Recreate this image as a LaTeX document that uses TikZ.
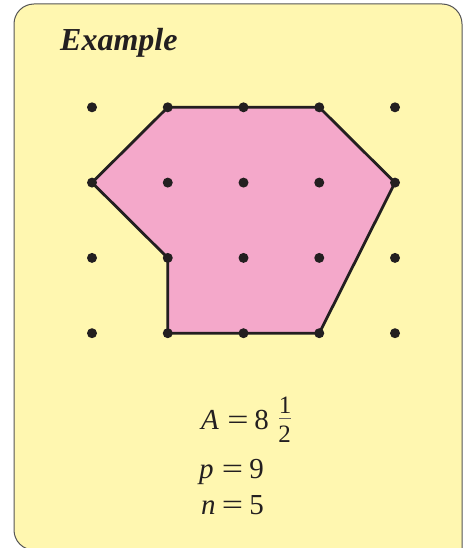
\documentclass[tikz,border=0pt]{standalone}
\usepackage{fontspec}
\usepackage{graphicx}
\setmainfont{Liberation Serif}
\definecolor{boxfill}{RGB}{255,247,176}
\definecolor{boxline}{RGB}{85,85,85}
\definecolor{polyfill}{RGB}{244,168,202}
\definecolor{ink}{RGB}{35,31,32}
\tikzset{
  dotmark/.style={circle, fill=ink, inner sep=0pt, minimum size=10pt},
  eq/.style={font=\fontsize{29}{29}\selectfont, inner sep=0pt, anchor=base, text=ink},
  frac/.style={font=\fontsize{25}{25}\selectfont, inner sep=0pt, anchor=base, text=ink},
  titletext/.style={font=\fontsize{32}{32}\selectfont\bfseries\itshape, inner sep=0pt, anchor=base west, text=ink},
  polyline/.style={draw=ink, line width=2.8pt, fill=polyfill, line join=miter}
}
\begin{document}
\begin{tikzpicture}[x=1pt, y=-1pt]
\useasboundingbox (0,0) rectangle (463,548);
\clip (0,0) rectangle (463,548);
% background box
\draw[draw=boxline, line width=1pt, fill=boxfill]
  (238,550) [rounded corners=20] -- (14,550) -- (14,4) -- (462,4) [sharp corners] -- (462,550) -- cycle;
% title
\node[titletext] (title) at (60,51) {Example};
% grid coordinates
\foreach \i in {0,...,4} {
  \foreach \j in {0,...,3} {
    \coordinate (p\i\j) at ({92+75.75*\i},{107.3+75.3*\j});
  }
}
% polygon
\draw[polyline] (p10) -- (p30) -- (p41) -- (p33) -- (p13) -- (p12) -- (p01) -- cycle;
% dots
\foreach \i in {0,...,4} {
  \foreach \j in {0,...,3} {
    \node[dotmark] (d\i\j) at (p\i\j) {};
  }
}
% formulas
\node[eq, anchor=base west] (aA) at (201,429) {\itshape A};
\node[eq] (aeq) at (238,429) {\scalebox{1.3}[1]{=}};
\node[eq] (a8) at (261.5,429) {8};
\node[frac] (fnum) at (285,413) {1};
\node[frac] (fden) at (284.5,442) {2};
\coordinate (fbl) at (279,418.5);
\coordinate (fbr) at (291,418.5);
\draw[ink!70, line width=0.5pt] (fbl) -- (fbr);
\node[eq, anchor=base west] (pp) at (199,478) {\itshape p};
\node[eq] (peq) at (232.5,478) {\scalebox{1.3}[1]{=}};
\node[eq] (p9) at (256.5,478) {9};
\node[eq, anchor=base west] (nn) at (201,514) {\itshape n};
\node[eq] (neq) at (232.5,514) {\scalebox{1.3}[1]{=}};
\node[eq] (n5) at (256.5,514) {5};
\end{tikzpicture}
\end{document}
